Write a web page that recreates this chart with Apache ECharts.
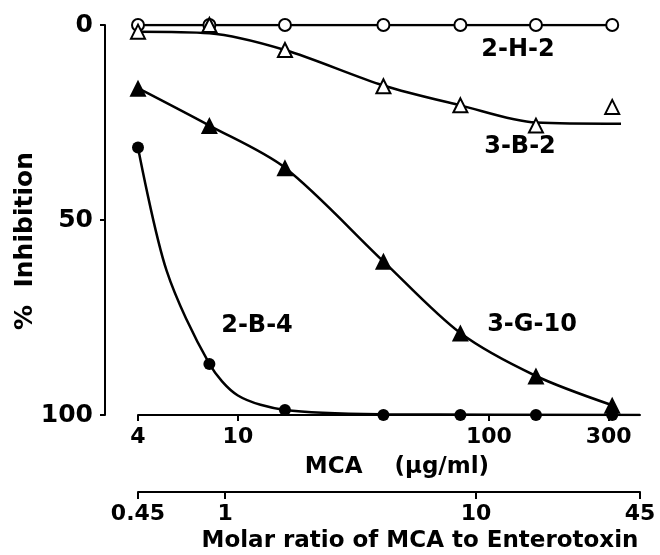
<!DOCTYPE html>
<html>
<head>
<meta charset="utf-8">
<script src="https://cdn.jsdelivr.net/npm/echarts@6/dist/echarts.min.js"></script>
<style>
  html, body { margin: 0; padding: 0; background: #fff; }
  #chart { width: 660px; height: 555px; }
</style>
</head>
<body>
<div id="chart"></div>
<script>
// MCA concentrations (ug/ml) where inhibition was measured
const mca = [4, 7.7, 15.4, 38, 77, 154, 310];

// % inhibition
const h2 = [0, 0, 0, 0, 0, 0, 0];            // 2-H-2, open circles
const b2 = [1.7, 0, 6.4, 15.7, 20.6, 25.8, 21]; // 3-B-2, open triangles
const g10 = [16.2, 25.8, 36.6, 60.6, 79, 90, 97.5]; // 3-G-10, filled triangles
const b4 = [31.4, 86.9, 98.7, 100, 100, 100, 100]; // 2-B-4, filled circles

// hand-drawn fitted curves
const b2CurveX = [4, 7.7, 15.4, 38, 77, 154, 336];
const b2CurveY = [1.7, 2.1, 6.4, 15.5, 20.6, 25, 25.3];
const b4CurveX = [4, 5.2, 7.7, 10, 15.4, 38, 400];
const b4CurveY = [31.4, 63, 86.9, 95, 98.7, 99.8, 100];

// axis tick labels
const mcaTicks = [4, 10, 100, 300];
const molarTicks = [0.45, 1, 10, 45];
const yTicks = [0, 50, 100];

const FONT = 'DejaVu Sans';
const pairs = (xs, ys) => xs.map((x, i) => [x, ys[i]]);

const chart = echarts.init(document.getElementById('chart'));

const curve = (data, smooth) => ({
  type: 'line',
  data: data,
  smooth: smooth,
  showSymbol: false,
  symbol: 'none',
  lineStyle: { color: '#000', width: 2.5 },
  z: 2
});

const marks = (data, symbol, size, filled) => ({
  type: 'scatter',
  data: data,
  symbol: symbol,
  symbolSize: size,
  itemStyle: filled
    ? { color: '#000', opacity: 1 }
    : { color: '#fff', borderColor: '#000', borderWidth: 2, opacity: 1 },
  z: 3
});

// text style shared by the axis labels
const txt = (size) => ({ fontFamily: FONT, fontSize: size, fontWeight: 'bold', color: '#000' });

const option = {
  animation: false,
  backgroundColor: '#fff',
  grid: {
    left: 138,
    right: 20,
    top: 25,
    bottom: 140,
    containLabel: false,
    outerBoundsMode: 'none'
  },
  xAxis: [
    {
      type: 'log',
      min: 4,
      max: 400,
      position: 'bottom',
      name: 'MCA    (\u00b5g/ml)',
      nameLocation: 'middle',
      nameGap: 41,
      nameTextStyle: Object.assign(txt(23), { padding: [0, 0, 0, 16] }),
      axisLine: { onZero: false, lineStyle: { color: '#000', width: 2 } },
      axisTick: { customValues: mcaTicks, length: 6, lineStyle: { color: '#000', width: 2 } },
      axisLabel: Object.assign(txt(22), {
        customValues: mcaTicks,
        formatter: (v) => String(v),
        margin: 11
      }),
      splitLine: { show: false },
      minorTick: { show: false }
    },
    {
      type: 'log',
      min: 0.45,
      max: 45,
      position: 'bottom',
      offset: 77,
      name: 'Molar ratio of MCA to Enterotoxin',
      nameLocation: 'middle',
      nameGap: 35,
      nameTextStyle: Object.assign(txt(23), { padding: [0, 0, 0, 62] }),
      axisLine: { onZero: false, lineStyle: { color: '#000', width: 2 } },
      axisTick: { customValues: molarTicks, length: 7, lineStyle: { color: '#000', width: 2 } },
      axisLabel: Object.assign(txt(22), {
        customValues: molarTicks,
        formatter: (v) => String(v),
        margin: 11
      }),
      splitLine: { show: false }
    }
  ],
  yAxis: {
    type: 'value',
    inverse: true,
    min: 0,
    max: 100,
    interval: 50,
    offset: 33,
    name: '%  Inhibition',
    nameLocation: 'middle',
    nameRotate: 90,
    nameGap: 67,
    nameMoveOverlap: false,
    nameTextStyle: Object.assign(txt(25), { padding: [0, 42, 0, 0] }),
    axisLine: { show: true, onZero: false, lineStyle: { color: '#000', width: 2 } },
    axisTick: { show: true, length: 5, lineStyle: { color: '#000', width: 2 } },
    axisLabel: Object.assign(txt(25), { customValues: yTicks, margin: 12 }),
    splitLine: { show: false }
  },
  graphic: [
    { type: 'text', x: 518, y: 50, style: { text: '2-H-2', font: 'bold 24px "DejaVu Sans"', fill: '#000', align: 'center', verticalAlign: 'middle' } },
    { type: 'text', x: 520, y: 147, style: { text: '3-B-2', font: 'bold 24px "DejaVu Sans"', fill: '#000', align: 'center', verticalAlign: 'middle' } },
    { type: 'text', x: 257, y: 326, style: { text: '2-B-4', font: 'bold 24px "DejaVu Sans"', fill: '#000', align: 'center', verticalAlign: 'middle' } },
    { type: 'text', x: 532, y: 325, style: { text: '3-G-10', font: 'bold 24px "DejaVu Sans"', fill: '#000', align: 'center', verticalAlign: 'middle' } }
  ],
  series: [
    curve(pairs(mca, h2), false),
    curve(pairs(b2CurveX, b2CurveY), 0.3),
    curve(pairs(mca, g10), 0.3),
    curve(pairs(b4CurveX, b4CurveY), 0.3),
    marks(pairs(mca, h2), 'circle', 12, false),
    marks(pairs(mca, b4), 'circle', 12, true),
    marks(pairs(mca, b2), 'triangle', 14, false),
    marks(pairs(mca, g10), 'triangle', 17, true)
  ]
};

chart.setOption(option);
</script>
</body>
</html>
